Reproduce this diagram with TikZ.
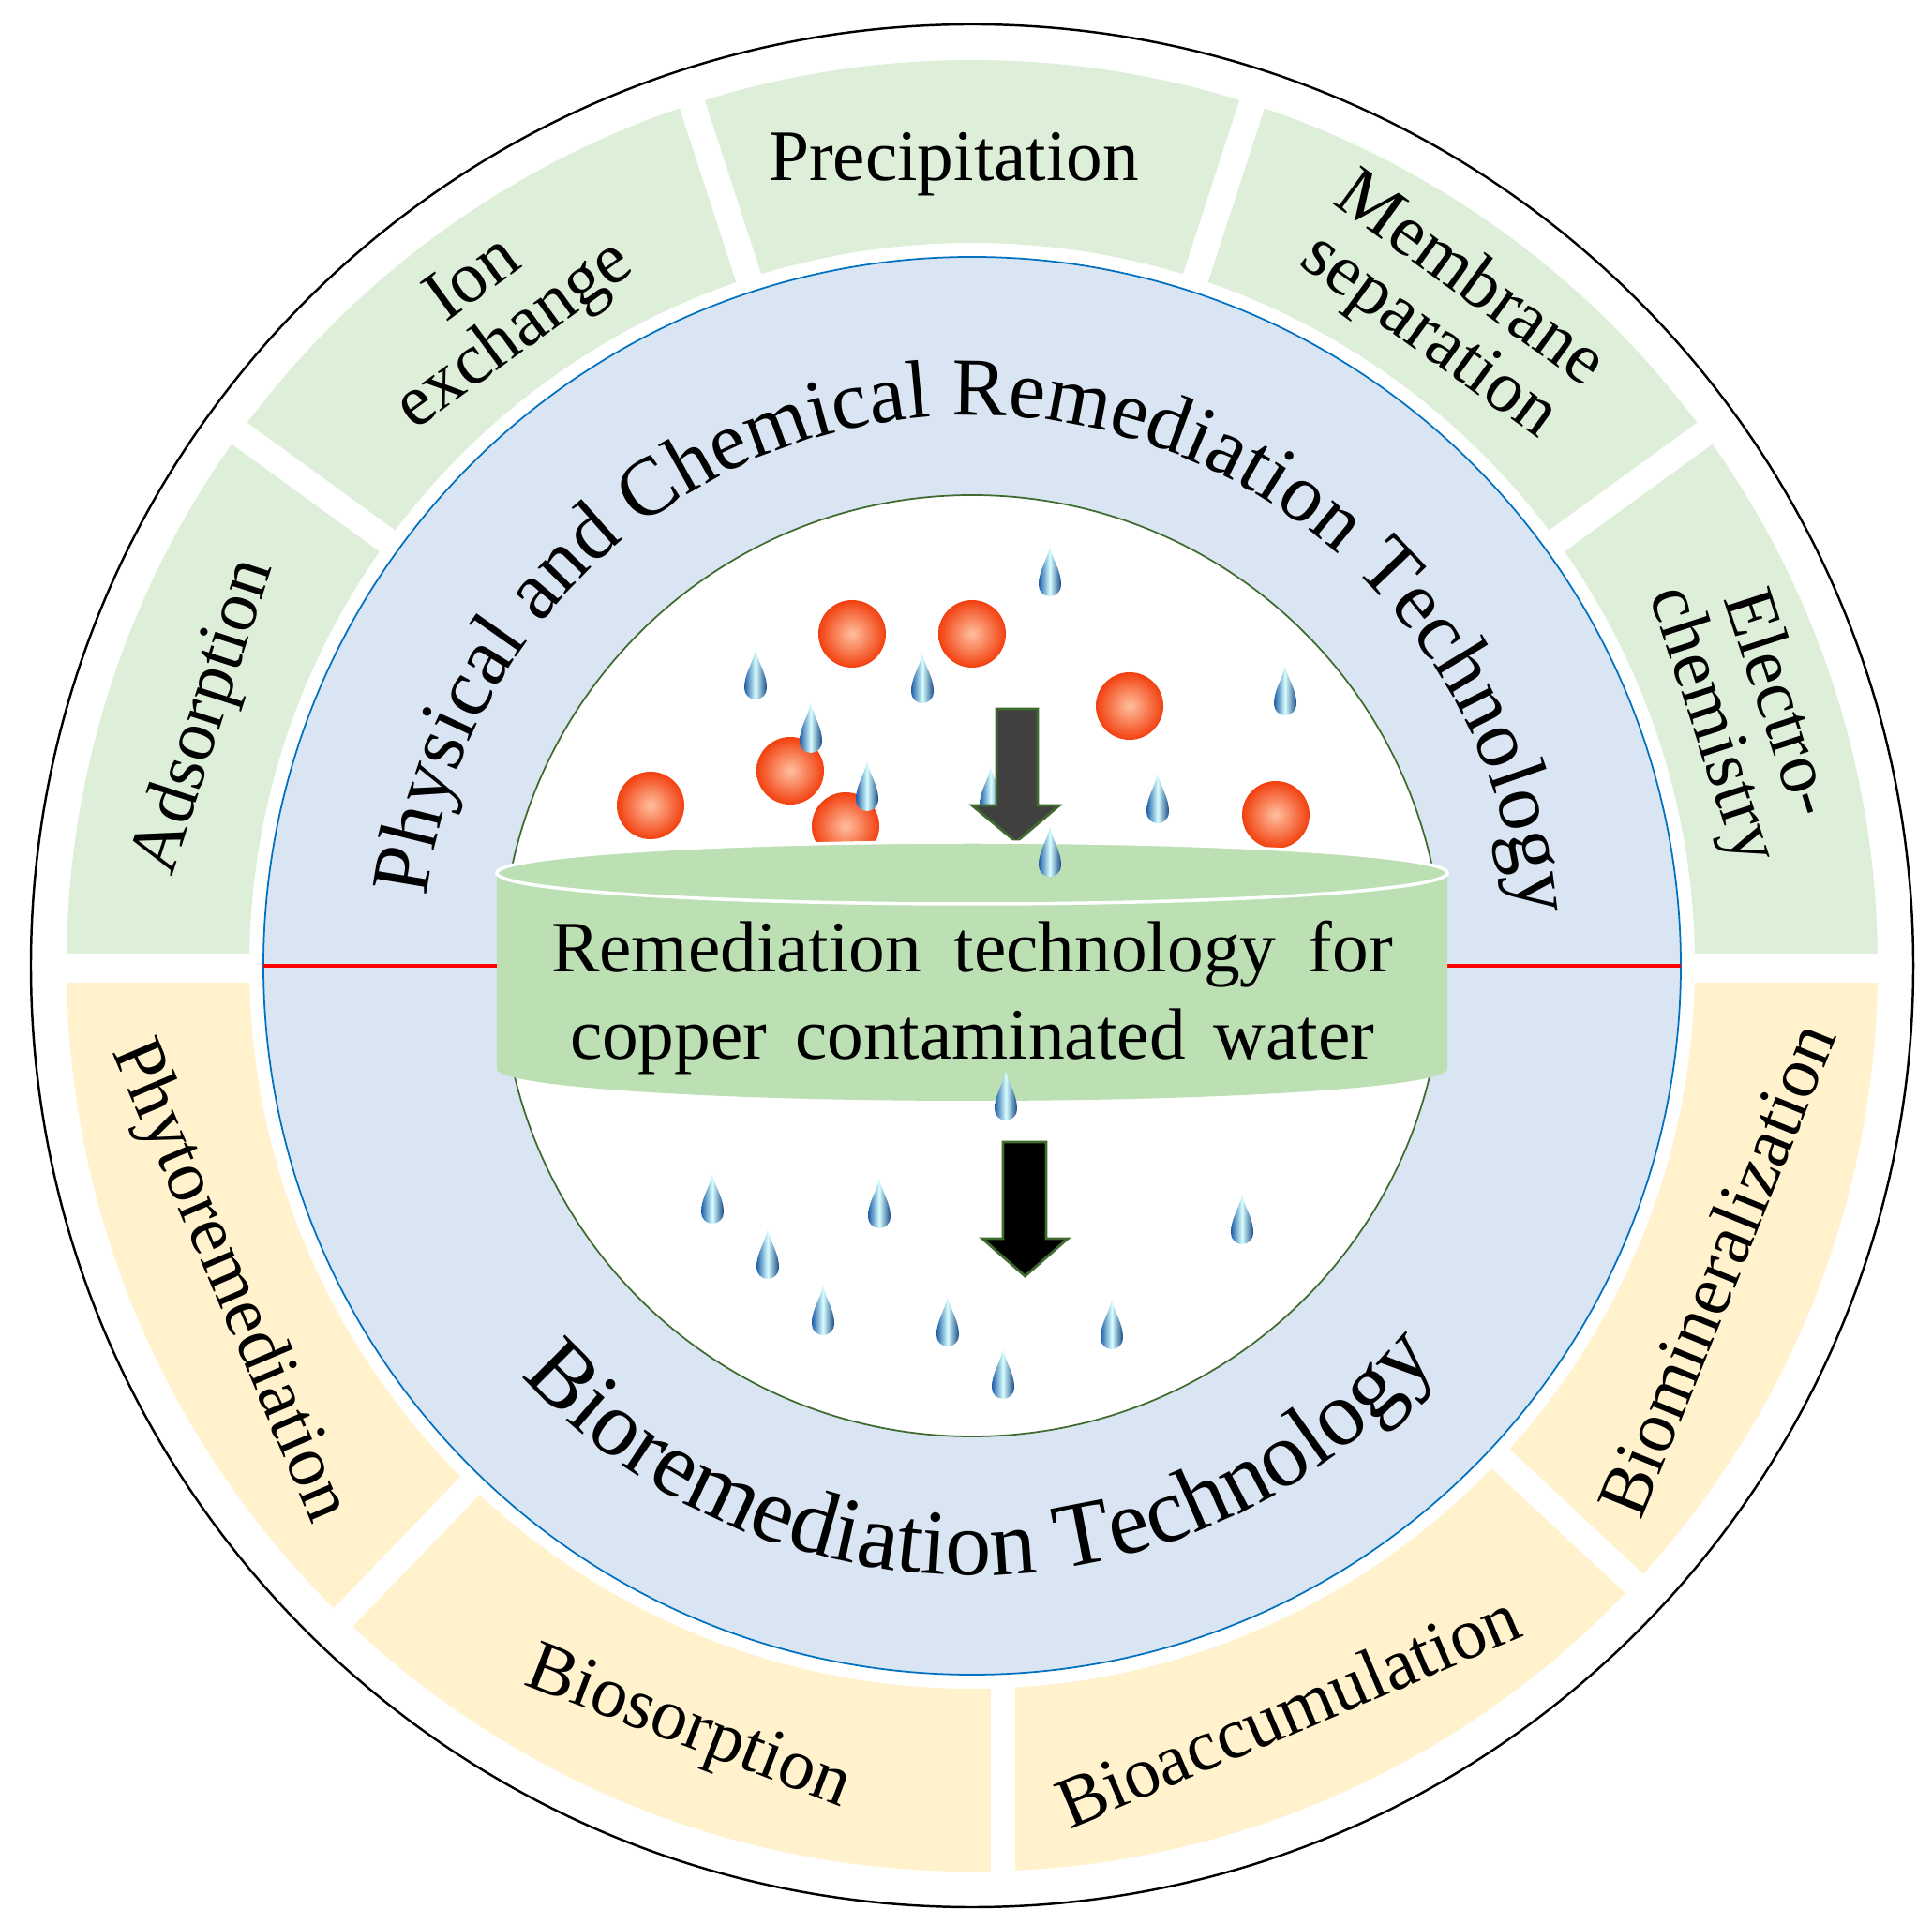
\documentclass[tikz,border=0pt]{standalone}
\usepackage{fontspec}
\setmainfont{Liberation Serif}
\usetikzlibrary{decorations.text}
\definecolor{gsec}{HTML}{DEEFD9}
\definecolor{ysec}{HTML}{FFF2CC}
\definecolor{bluef}{HTML}{DAE5F3}
\definecolor{blued}{HTML}{0070C0}
\definecolor{cylf}{HTML}{BCE0B4}
\definecolor{dgreen}{HTML}{3F6B2E}
\definecolor{dropb}{HTML}{1E5EA8}
\definecolor{ballo}{HTML}{F2400F}
\definecolor{balli}{HTML}{FFC0A0}
\tikzset{
  lab/.style={font=\fontsize{22}{21}\selectfont, align=center, inner sep=0pt},
  gap/.style={white, line width=0.28cm},
  ball/.style={inner color=balli, outer color=ballo},
  drop/.pic={\shade[left color=dropb, right color=dropb!80!black, middle color=white!85!cyan]
     (0,0.27) .. controls (0.03,0.12) and (0.12,0.02) .. (0.12,-0.14)
     arc[start angle=0,end angle=-180,radius=0.12]
     .. controls (-0.12,0.02) and (-0.03,0.12) .. (0,0.27);}
}
\begin{document}
\begin{tikzpicture}
\useasboundingbox (0,0) rectangle (20.61,20.52);
\begin{scope}[shift={(10.37,10.22)}]
% outer circle
\draw[line width=0.7pt, fill=white] (0,0) circle (10.04);
% sectors
\fill[gsec] (0:9.66) arc[start angle=0,end angle=180,radius=9.66] -- (180:7.71) arc[start angle=180,end angle=0,radius=7.71] -- cycle;
\fill[ysec] (180:9.66) arc[start angle=180,end angle=360,radius=9.66] -- (0:7.71) arc[start angle=360,end angle=180,radius=7.71] -- cycle;
\foreach \a in {36,72,108,144,226,317} \draw[gap] (\a:7.5) -- (\a:9.9);
\draw[white, line width=0.26cm] (0.33,-7.5) -- (0.33,-9.9);
\fill[white] (-9.9,-0.18) rectangle (9.9,0.13);
% blue circle
\draw[blued, line width=0.5pt, fill=bluef] (0,0) circle (7.56);
\draw[red, line width=1.2pt] (-7.56,0) -- (7.56,0);
% inner circle
\draw[dgreen, line width=0.5pt, fill=white] (0,0) circle (5.02);
% arc texts
\path[decorate, decoration={text along path, text align=center, text format delimiters={|}{|},
  text={|\fontsize{25}{25}\selectfont|Physical and Chemical Remediation Technology}}]
  (178:5.87) arc[start angle=178,end angle=0,radius=5.87];
\path[decorate, decoration={text along path, text align=center, text format delimiters={|}{|},
  text={|\fontsize{28}{28}\selectfont|Bioremediation Technology}}]
  (221:6.5) arc[start angle=221,end angle=321,radius=6.5];
% sector labels
\node[lab, rotate=72]  (ads) at (162:8.6) {Adsorption};
\node[lab, rotate=36]  (ion) at (126:8.65) {Ion\\exchange};
\node[lab, rotate=0]   (pre) at (91.3:8.55) {Precipitation};
\node[lab, rotate=-36] (mem) at (54:8.65) {Membrane\\separation};
\node[lab, rotate=-72] (ele) at (18:8.65) {Electro-\\chemistry};
\node[lab, rotate=-67] (phy) at (203:8.62) {Phytoremediation};
\node[lab, rotate=-21] (bis) at (249.6:8.7) {Biosorption};
\node[lab, rotate=23]  (bac) at (293:8.62) {Bioaccumulation};
\node[lab, rotate=68]  (bmi) at (337.8:8.57) {Biomineralization};
% balls
\foreach \p in {(-1.28,3.54),(0,3.54),(1.68,2.77),(-3.43,1.71),(-1.94,2.08),(-1.35,1.49),(3.24,1.61)}
  \shade[ball] \p circle (0.36);
% drops top
\foreach \p in {(0.83,4.20),(-2.31,3.10),(-0.53,3.06),(3.34,2.93),(-1.72,2.53),(-1.12,1.91),(0.20,1.85),(1.98,1.78)}
  \pic at \p {drop};
% upper arrow
\draw[dgreen, line width=0.8pt, fill=black!75] (0.26,2.74) -- (0.70,2.74) -- (0.70,1.71) -- (0.93,1.71) -- (0.47,1.32) -- (0.0,1.71) -- (0.26,1.71) -- cycle;
% cylinder
\fill[cylf] (-5.07,0.99) -- (-5.07,-1.10) arc[start angle=180,end angle=360,x radius=5.07,y radius=0.34] -- (5.07,0.99) -- cycle;
\draw[white, line width=1pt, fill=cylf] (0,0.99) ellipse[x radius=5.07, y radius=0.33];
\pic at (0.83,1.21) {drop};
\node[font=\fontsize{22}{22}\selectfont, anchor=base, inner sep=0pt] (t1) at (0,-0.07) {\makebox[8.98cm][s]{Remediation technology for}};
\node[font=\fontsize{22}{22}\selectfont, anchor=base, inner sep=0pt] (t2) at (0,-1.0) {\makebox[8.58cm][s]{copper contaminated water}};
% drops bottom
\foreach \p in {(0.36,-1.39),(-2.77,-2.49),(-0.99,-2.54),(2.88,-2.71),(-2.18,-3.08),(-1.59,-3.68),(-0.26,-3.80),(1.49,-3.83),(0.33,-4.36)}
  \pic at \p {drop};
% lower arrow
\draw[dgreen, line width=0.8pt, fill=black] (0.33,-1.88) -- (0.79,-1.88) -- (0.79,-2.91) -- (1.02,-2.91) -- (0.565,-3.31) -- (0.11,-2.91) -- (0.33,-2.91) -- cycle;
\end{scope}
\end{tikzpicture}
\end{document}
